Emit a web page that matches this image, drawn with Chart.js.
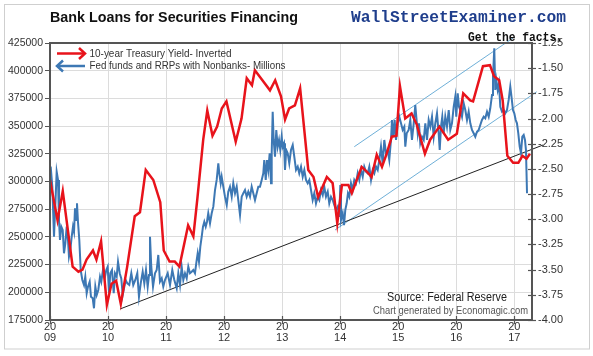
<!DOCTYPE html>
<html><head><meta charset="utf-8">
<script src="https://cdn.jsdelivr.net/npm/chart.js@4.4.1/dist/chart.umd.min.js"></script>
<style>html,body{margin:0;padding:0;background:#fff}canvas{display:block}</style>
</head><body>
<canvas id="c" width="593" height="356"></canvas>
<script>
const titleText = 'Bank Loans for Securities Financing';
const brandText = 'WallStreetExaminer.com';
const taglineText = 'Get the facts.';
const sourceText = 'Source: Federal Reserve';
const creditText = 'Chart generated by Economagic.com';
const seriesNames = ['10-year Treasury Yield- Inverted', 'Fed funds and RRPs with Nonbanks- Millions'];

const yearTicks = [2009, 2010, 2011, 2012, 2013, 2014, 2015, 2016, 2017];
const xTickLabels = [['20','09'],['20','10'],['20','11'],['20','12'],['20','13'],['20','14'],['20','15'],['20','16'],['20','17']];

// 10-year Treasury yield, inverted (right axis)
const yieldDates = [2009.00,2009.13,2009.22,2009.39,2009.49,2009.56,2009.63,2009.74,2009.80,2009.88,2009.98,2010.06,2010.14,2010.22,2010.33,2010.46,2010.55,2010.65,2010.78,2010.90,2010.96,2011.06,2011.15,2011.23,2011.38,2011.47,2011.54,2011.64,2011.71,2011.80,2011.88,2011.96,2012.04,2012.20,2012.30,2012.39,2012.48,2012.53,2012.66,2012.79,2012.88,2012.98,2013.05,2013.12,2013.22,2013.31,2013.45,2013.54,2013.62,2013.77,2013.87,2013.95,2014.03,2014.14,2014.20,2014.37,2014.48,2014.54,2014.63,2014.72,2014.80,2014.89,2014.97,2015.03,2015.12,2015.23,2015.32,2015.46,2015.55,2015.71,2015.86,2016.01,2016.12,2016.24,2016.29,2016.46,2016.58,2016.65,2016.74,2016.80,2016.88,2016.98,2017.07,2017.14,2017.21,2017.27];
const yieldInverted = [-2.61,-3.01,-2.72,-3.47,-3.52,-3.50,-3.40,-3.31,-3.40,-3.22,-3.85,-3.64,-3.61,-3.84,-3.47,-2.97,-2.93,-2.51,-2.61,-2.83,-3.31,-3.42,-3.42,-3.47,-3.06,-3.17,-2.79,-2.21,-1.92,-2.17,-2.08,-1.90,-1.83,-2.23,-2.00,-1.60,-1.67,-1.52,-1.62,-1.72,-1.62,-1.78,-2.01,-1.90,-1.87,-1.70,-2.51,-2.58,-2.78,-2.58,-2.64,-3.04,-2.66,-2.66,-2.74,-2.48,-2.54,-2.58,-2.36,-2.48,-2.35,-2.18,-2.17,-1.68,-2.00,-1.95,-2.06,-2.35,-2.21,-2.08,-2.21,-2.15,-1.75,-1.82,-1.83,-1.48,-1.47,-1.58,-1.62,-1.82,-2.37,-2.44,-2.44,-2.37,-2.40,-2.35];

// Fed funds and RRPs with nonbanks, millions (left axis)
const loanDates = [2009.012,2009.040,2009.069,2009.091,2009.115,2009.138,2009.155,2009.172,2009.195,2009.219,2009.241,2009.264,2009.288,2009.310,2009.327,2009.350,2009.374,2009.396,2009.414,2009.431,2009.448,2009.465,2009.482,2009.505,2009.529,2009.557,2009.586,2009.608,2009.632,2009.655,2009.684,2009.706,2009.736,2009.758,2009.781,2009.805,2009.832,2009.862,2009.884,2009.913,2009.942,2009.970,2009.994,2010.017,2010.039,2010.068,2010.098,2010.120,2010.149,2010.172,2010.201,2010.228,2010.253,2010.275,2010.304,2010.332,2010.366,2010.401,2010.435,2010.470,2010.504,2010.533,2010.563,2010.597,2010.625,2010.654,2010.683,2010.706,2010.723,2010.745,2010.775,2010.809,2010.838,2010.866,2010.895,2010.925,2010.952,2010.981,2011.028,2011.068,2011.107,2011.142,2011.183,2011.211,2011.240,2011.269,2011.297,2011.326,2011.355,2011.383,2011.412,2011.441,2011.469,2011.498,2011.528,2011.545,2011.567,2011.590,2011.614,2011.636,2011.659,2011.683,2011.705,2011.727,2011.757,2011.786,2011.814,2011.843,2011.872,2011.900,2011.917,2011.941,2011.958,2011.986,2012.015,2012.045,2012.072,2012.101,2012.131,2012.158,2012.188,2012.217,2012.244,2012.274,2012.303,2012.331,2012.360,2012.389,2012.417,2012.446,2012.475,2012.503,2012.532,2012.561,2012.589,2012.618,2012.648,2012.675,2012.692,2012.717,2012.739,2012.761,2012.785,2012.808,2012.820,2012.837,2012.854,2012.877,2012.899,2012.923,2012.946,2012.968,2012.992,2013.009,2013.032,2013.049,2013.071,2013.096,2013.123,2013.152,2013.182,2013.209,2013.239,2013.268,2013.295,2013.325,2013.354,2013.382,2013.411,2013.440,2013.468,2013.497,2013.526,2013.554,2013.583,2013.612,2013.640,2013.669,2013.699,2013.726,2013.755,2013.785,2013.812,2013.842,2013.871,2013.898,2013.928,2013.957,2013.985,2014.002,2014.014,2014.043,2014.066,2014.088,2014.112,2014.134,2014.157,2014.186,2014.215,2014.243,2014.272,2014.302,2014.329,2014.359,2014.388,2014.415,2014.445,2014.474,2014.502,2014.531,2014.560,2014.588,2014.617,2014.646,2014.674,2014.703,2014.732,2014.760,2014.789,2014.819,2014.846,2014.875,2014.893,2014.915,2014.939,2014.962,2014.991,2015.018,2015.048,2015.077,2015.105,2015.122,2015.146,2015.180,2015.208,2015.237,2015.267,2015.294,2015.311,2015.336,2015.358,2015.380,2015.410,2015.439,2015.467,2015.496,2015.525,2015.553,2015.582,2015.611,2015.639,2015.668,2015.697,2015.715,2015.737,2015.759,2015.783,2015.811,2015.840,2015.870,2015.897,2015.926,2015.956,2015.983,2016.000,2016.025,2016.047,2016.069,2016.099,2016.128,2016.156,2016.185,2016.214,2016.242,2016.271,2016.300,2016.328,2016.357,2016.386,2016.414,2016.443,2016.473,2016.500,2016.530,2016.559,2016.586,2016.616,2016.633,2016.655,2016.672,2016.690,2016.714,2016.736,2016.759,2016.788,2016.817,2016.845,2016.874,2016.903,2016.931,2016.955,2016.977,2017.000,2017.024,2017.046,2017.069,2017.093,2017.115,2017.138,2017.162,2017.184,2017.201,2017.219];
const loanValues = [313400,295300,250200,277300,308800,301400,265300,247200,259200,256200,235200,244200,259200,247200,232100,238200,250200,259200,254700,275800,265300,280300,263700,247200,220100,211100,206600,214100,199100,205100,209600,196000,194600,185600,205100,197600,202100,214100,209600,220100,212600,220100,223100,199100,217200,220100,199100,217200,214100,227600,217200,212600,197600,203600,211100,208100,206600,217200,206600,211100,217200,196000,208100,218600,208100,220100,205100,215600,250200,223100,205100,217200,220100,233700,209600,212600,205100,211100,217200,206600,220100,211100,203600,217200,206600,223100,211100,217200,212600,223100,217200,218600,220100,217200,229200,235200,227600,241200,250200,259200,263700,259200,263700,271300,262300,271300,277300,292300,301400,316400,307400,298400,304300,295300,286300,278800,290800,295300,286300,298400,289400,295300,283300,269800,286300,289400,292300,286300,290800,286300,295300,289400,283300,289400,295300,295300,301400,307400,319400,301400,319400,310400,325500,298400,325500,363000,337500,322400,346500,331400,337500,328400,340400,331400,334500,310400,328400,325500,316400,328400,332900,322400,310400,313400,307400,313400,304300,310400,301400,298400,301400,292300,283300,289400,280300,286300,283300,292300,287800,295300,286300,290800,280300,286300,283300,278800,274300,277300,268200,296800,265300,271300,260700,274300,280300,289400,286300,298400,292300,301400,298400,307400,301400,310400,304300,313400,308800,307400,313400,301400,310400,307400,313400,310400,319400,331400,316400,337500,325500,328400,319400,337500,355500,340400,355500,337500,352500,358500,352500,346500,349500,331400,343500,346500,355500,337500,352500,369000,358500,343500,352500,334500,340400,337500,352500,337500,355500,349500,358500,340400,352500,361600,343500,328400,349500,358500,343500,358500,349500,364500,346500,352500,367500,376500,358500,379600,367500,364500,358500,370600,364500,355500,363000,352500,346500,343500,340400,344900,346500,351000,355500,358500,357000,363000,358500,366100,378100,394600,420200,382600,391600,382600,388600,367500,363000,364500,361600,364500,373600,385600,375100,364500,361600,355500,352500,343500,331400,325500,340400,342000,337500,328400,289400];

// Hand-drawn trend lines (left-axis units)
const supportDates = [2010.206, 2017.494];
const supportValues = [184900, 332900];
const channelUpperDates = [2014.243, 2016.977];
const channelUpperValues = [331400, 429500];
const channelLowerDates = [2013.911, 2017.386];
const channelLowerValues = [256200, 381000];

const FONT = "'Liberation Sans', Arial, sans-serif";
const MONO = "'Liberation Mono', 'Courier New', monospace";
const toXY = (xs, ys) => xs.map((x, i) => ({x, y: ys[i]}));

function fitText(ctx, text, x, y, width, font, color) {
  ctx.save();
  ctx.font = font;
  const w = ctx.measureText(text).width;
  ctx.translate(x, y);
  ctx.scale(width / w, 1);
  ctx.fillStyle = color;
  ctx.textBaseline = 'middle';
  ctx.textAlign = 'left';
  ctx.fillText(text, 0, 0);
  ctx.restore();
}

const decor = {
  id: 'decor',
  beforeDraw(chart) {
    const ctx = chart.ctx;
    ctx.save();
    ctx.fillStyle = '#fff';
    ctx.fillRect(0, 0, chart.width, chart.height);
    ctx.strokeStyle = '#cfcfcf';
    ctx.lineWidth = 1;
    ctx.strokeRect(4.5, 4.5, 585, 344.5);
    ctx.restore();
  },
  afterDraw(chart) {
    const ctx = chart.ctx, a = chart.chartArea;
    ctx.save();
    ctx.strokeStyle = '#555';
    ctx.lineWidth = 2;
    ctx.strokeRect(a.left, a.top, a.right - a.left, a.bottom - a.top);
    ctx.lineWidth = 1.2;
    chart.scales.y1.ticks.forEach(t => {
      const py = Math.round(chart.scales.y1.getPixelForValue(t.value)) + 0.5;
      ctx.beginPath(); ctx.moveTo(a.right - 4, py); ctx.lineTo(a.right + 4, py); ctx.stroke();
    });
    yearTicks.forEach(yv => {
      const px = Math.round(chart.scales.x.getPixelForValue(yv)) + 0.5;
      ctx.beginPath(); ctx.moveTo(px, a.bottom - 4); ctx.lineTo(px, a.bottom + 4); ctx.stroke();
    });
    // legend
    ctx.lineWidth = 2.5;
    ctx.strokeStyle = '#e8131b';
    ctx.beginPath(); ctx.moveTo(57, 53.5); ctx.lineTo(85, 53.5); ctx.stroke();
    ctx.beginPath(); ctx.moveTo(79, 48); ctx.lineTo(85, 53.5); ctx.lineTo(79, 59); ctx.stroke();
    ctx.strokeStyle = '#3d78b4';
    ctx.beginPath(); ctx.moveTo(57, 66); ctx.lineTo(85, 66); ctx.stroke();
    ctx.beginPath(); ctx.moveTo(63, 60.5); ctx.lineTo(57, 66); ctx.lineTo(63, 71.5); ctx.stroke();
    ctx.restore();
    fitText(ctx, seriesNames[0], 89.5, 53.5, 142, '11px ' + FONT, '#333');
    fitText(ctx, seriesNames[1], 89.5, 66, 196, '11px ' + FONT, '#333');
    fitText(ctx, titleText, 50, 18, 248, 'bold 15px ' + FONT, '#111');
    fitText(ctx, brandText, 351, 18, 215, 'bold 16px ' + MONO, '#1f3e8c');
    fitText(ctx, taglineText, 468, 37.5, 95, 'bold 12px ' + MONO, '#111');
    fitText(ctx, sourceText, 387, 297.5, 120, '12px ' + FONT, '#222');
    fitText(ctx, creditText, 373, 311.5, 155, '10px ' + FONT, '#555');
  }
};

new Chart(document.getElementById('c'), {
  type: 'line',
  data: {
    datasets: [
      { label: seriesNames[0], data: toXY(yieldDates, yieldInverted), yAxisID: 'y1',
        borderColor: '#e8131b', borderWidth: 2.5, pointRadius: 0, tension: 0 },
      { label: seriesNames[1], data: toXY(loanDates, loanValues), yAxisID: 'y',
        borderColor: '#3d78b4', borderWidth: 2, pointRadius: 0, tension: 0 },
      { label: 'support', data: toXY(supportDates, supportValues), yAxisID: 'y',
        borderColor: '#222', borderWidth: 1, pointRadius: 0, clip: false },
      { label: 'channel upper', data: toXY(channelUpperDates, channelUpperValues), yAxisID: 'y',
        borderColor: '#6fb0d8', borderWidth: 1, pointRadius: 0, clip: false },
      { label: 'channel lower', data: toXY(channelLowerDates, channelLowerValues), yAxisID: 'y',
        borderColor: '#6fb0d8', borderWidth: 1, pointRadius: 0, clip: false }
    ]
  },
  options: {
    responsive: false,
    animation: false,
    events: [],
    layout: { padding: { top: 43, left: 0, right: 0, bottom: 0 } },
    plugins: { legend: { display: false }, tooltip: { enabled: false }, title: { display: false } },
    scales: {
      x: {
        type: 'linear', min: 2009, max: 2017.305,
        afterFit(s) { s.height = 36; },
        ticks: {
          stepSize: 1, includeBounds: false, autoSkip: false, maxRotation: 0,
          callback: (v) => { const i = yearTicks.indexOf(Math.round(v)); return i >= 0 ? xTickLabels[i] : ''; },
          font: { family: FONT, size: 11, lineHeight: 1.0 }, color: '#333', padding: 1
        },
        grid: { color: '#dcdcdc', drawTicks: false },
        border: { display: false }
      },
      y: {
        position: 'left', min: 175000, max: 425000,
        afterFit(s) { s.width = 50; },
        ticks: { stepSize: 25000, callback: (v) => String(Math.round(v)), font: { family: FONT, size: 10.5 }, color: '#333', padding: 2 },
        grid: { color: '#dcdcdc', tickLength: 5, tickColor: '#555' },
        border: { display: false }
      },
      y1: {
        position: 'right', min: -4, max: -1.25,
        afterFit(s) { s.width = 61; },
        ticks: { stepSize: 0.25, callback: (v) => Number(v).toFixed(2), font: { family: FONT, size: 11 }, color: '#333', padding: 6 },
        grid: { drawOnChartArea: false, drawTicks: false },
        border: { display: false }
      }
    }
  },
  plugins: [decor]
});
</script>
</body></html>
